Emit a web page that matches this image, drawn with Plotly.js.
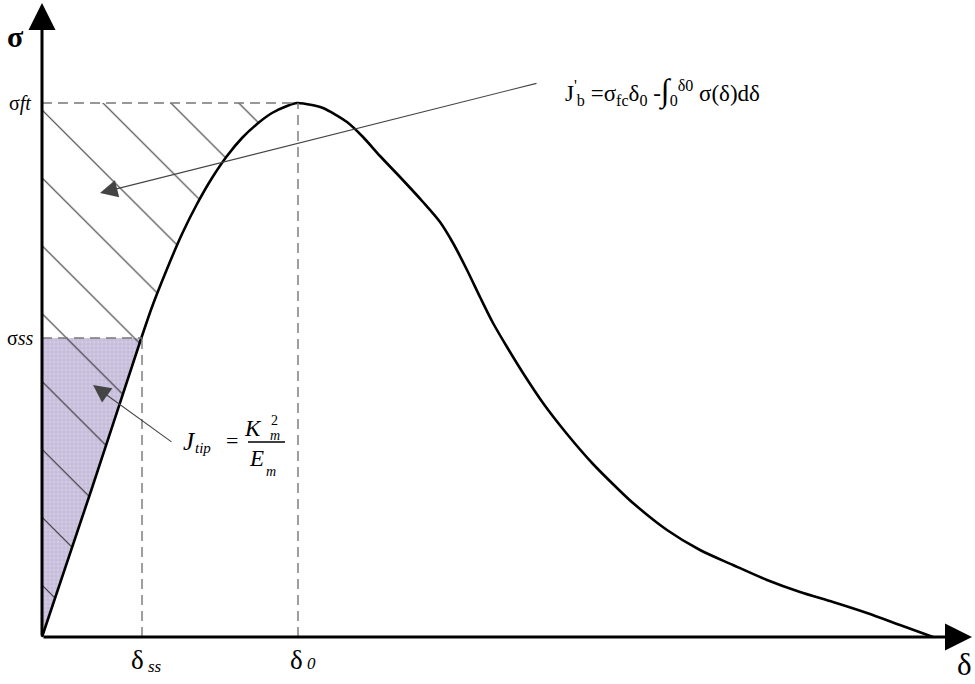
<!DOCTYPE html>
<html>
<head>
<meta charset="utf-8">
<script src="https://cdn.plot.ly/plotly-3.0.1.min.js"></script>
<style>
  html, body { margin: 0; padding: 0; background: #fff; }
  #chart { width: 975px; height: 684px; }
</style>
</head>
<body>
<div id="chart"></div>
<script>
// traction-separation curve (arbitrary units)
var deltaCurve = [0, 50, 98, 110, 125, 140, 155, 170, 185, 200, 215, 230, 245, 255, 270, 281, 305, 321, 338, 358, 381, 398, 411, 425, 438, 451, 465, 481, 501, 525, 551, 575, 591, 625, 658, 691, 725, 758, 791, 825, 858, 891];
var sigmaCurve = [0, 149, 295, 330, 368, 403, 433, 459, 481, 499, 513, 524, 531, 534, 532, 529, 515, 500, 481, 460, 435, 415, 394, 367, 340, 314, 290, 264, 234, 203, 173, 149, 134, 107, 87, 72, 57, 45, 35, 24, 12, 0];

// characteristic points
var deltaSS = 100, sigmaSS = 299;
var delta0 = 256, sigmaFT = 534;
var deltaMax = 930, sigmaMax = 634;

var SERIF = 'Liberation Serif, Times New Roman, serif';

// rising branch up to the peak, closed along σft back to the σ axis
var peakIdx = sigmaCurve.indexOf(Math.max.apply(null, sigmaCurve));
var hatchX = deltaCurve.slice(0, peakIdx + 1).concat([0]);
var hatchY = sigmaCurve.slice(0, peakIdx + 1).concat([sigmaFT]);

var traces = [
  {
    // J_tip area
    x: [0, deltaSS, 0], y: [0, sigmaSS, sigmaSS],
    mode: 'lines', fill: 'toself', line: {width: 0},
    fillcolor: '#c4bad9',
    fillpattern: {shape: '+', bgcolor: '#c4bad9', fgcolor: '#dcd5ea', size: 4, solidity: 0.3},
    hoverinfo: 'skip'
  },
  {
    // J'_b area, hatched
    x: hatchX, y: hatchY,
    mode: 'lines', fill: 'toself', line: {width: 0},
    fillcolor: 'rgba(0,0,0,0)',
    fillpattern: {shape: '\\', fgcolor: '#2e2e2e', bgcolor: 'rgba(0,0,0,0)', size: 48, solidity: 0.022},
    hoverinfo: 'skip'
  },
  {
    x: deltaCurve, y: sigmaCurve,
    mode: 'lines',
    line: {color: '#000', width: 2.6, shape: 'spline', smoothing: 0.8},
    hoverinfo: 'skip'
  }
];

var dash = {color: '#777', width: 1.4, dash: '10px,6px'};
var shapes = [
  {type: 'line', xref: 'x', yref: 'y', x0: 0, y0: sigmaFT, x1: delta0, y1: sigmaFT, line: dash},
  {type: 'line', xref: 'x', yref: 'y', x0: delta0, y0: 0, x1: delta0, y1: sigmaFT, line: dash},
  {type: 'line', xref: 'x', yref: 'y', x0: 0, y0: sigmaSS, x1: deltaSS, y1: sigmaSS, line: dash},
  {type: 'line', xref: 'x', yref: 'y', x0: deltaSS, y0: 0, x1: deltaSS, y1: sigmaSS, line: dash},
  // fraction bar of J_tip
  {type: 'line', xref: 'x', yref: 'y', x0: 206, y0: 195, x1: 243, y1: 195, line: {color: '#000', width: 1.3}}
];

function arrow(xh, yh, xt, yt, w, size, col) {
  return {x: xh, y: yh, ax: xt, ay: yt, xref: 'x', yref: 'y', axref: 'x', ayref: 'y',
          text: '', showarrow: true, arrowhead: 2, arrowwidth: w, arrowsize: size, arrowcolor: col};
}
function label(x, y, txt, size, xa) {
  return {x: x, y: y, xref: 'x', yref: 'y', text: txt, showarrow: false,
          xanchor: xa || 'center', yanchor: 'middle', font: {family: SERIF, size: size, color: '#000'}};
}

var annotations = [
  // axes
  arrow(0, sigmaMax, 0, 0, 3, 1.8, '#000'),
  arrow(deltaMax, 0, 0, 0, 3, 1.8, '#000'),
  // pointers
  arrow(58, 444, 496, 554, 1.1, 3.2, '#444'),
  arrow(51, 252, 131, 194, 1.1, 3.2, '#444'),
  // axis names and marks
  label(-27, 601, '<b>σ</b>', 30),
  label(deltaMax - 8, -27, 'δ', 31),
  label(-22, sigmaFT, 'σ<i>ft</i>', 20),
  label(-22, sigmaSS, 'σ<i>ss</i>', 20),
  label(95, -23, 'δ', 27),
  label(113, -29, '<i>ss</i>', 17),
  label(254, -23, 'δ', 27),
  label(269, -26, '<i>0</i>', 17),
  // J'_b
  label(521, 546, "J<sup>'</sup><sub>b</sub> =σ<sub>fc</sub>δ<sub>0</sub> -<span style='font-size:32px'>∫</span><sub>0</sub><sup>δ0</sup> σ(δ)dδ", 23, 'left'),
  // J_tip = K_m^2 / E_m
  label(147, 196, '<i>J</i>', 25),
  label(161, 189, '<i>tip</i>', 15),
  label(190, 197, '=', 22),
  label(211, 209, '<i>K</i>', 23),
  label(232, 217, '2', 14),
  label(233, 202, '<i>m</i>', 14),
  label(214, 179, '<i>E</i>', 23),
  label(229, 166, '<i>m</i>', 14)
];

var layout = {
  width: 975, height: 684,
  margin: {l: 0, r: 0, t: 0, b: 0},
  paper_bgcolor: '#fff', plot_bgcolor: '#fff',
  showlegend: false,
  xaxis: {range: [-42, 933], visible: false, fixedrange: true},
  yaxis: {range: [-47, 637], visible: false, fixedrange: true},
  shapes: shapes,
  annotations: annotations
};

Plotly.newPlot('chart', traces, layout, {staticPlot: true});
</script>
</body>
</html>
